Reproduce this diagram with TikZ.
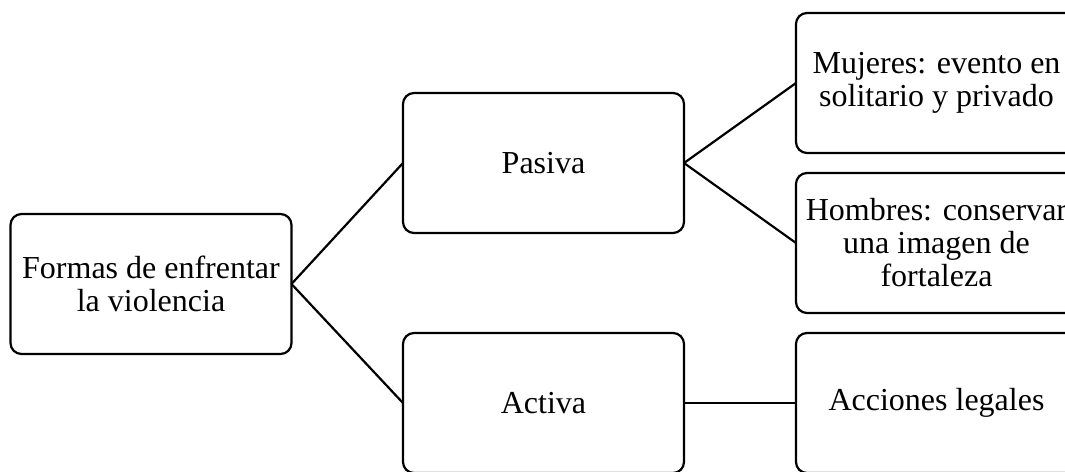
\documentclass[tikz,border=0pt]{standalone}
\usepackage{fontspec}
\setmainfont{Liberation Serif}
\begin{document}
\begin{tikzpicture}[x=1pt,y=-1pt,
  box/.style={draw=black, line width=2.2pt, rounded corners=11pt, fill=white,
    minimum width=281pt, minimum height=140pt, inner sep=0pt, outer sep=0pt,
    align=center, font=\fontsize{32}{33}\selectfont},
  link/.style={draw=black, line width=2.2pt}]
  \useasboundingbox (0,0) rectangle (1065,471);
  \clip (0,0) rectangle (1065,471);
  \fill[white] (0,0) rectangle (1065,471);

  % left column
  \node[box] (root) at (151,284) {Formas de enfrentar\\la violencia};
  % middle column
  \node[box] (pasiva) at (543.5,163) {Pasiva};
  \node[box] (activa) at (543.5,403) {Activa};
  % right column
  \node[box] (mujeres) at (936.5,83) {Mujeres: evento en\\solitario y privado};
  \node[box] (hombres) at (936.5,243) {Hombres: conservar\\una imagen de\\fortaleza};
  \node[box] (acciones) at (936.5,403) {Acciones legales};

  % connectors
  \draw[link] (root.east) -- (pasiva.west);
  \draw[link] (root.east) -- (activa.west);
  \draw[link] (pasiva.east) -- (mujeres.west);
  \draw[link] (pasiva.east) -- (hombres.west);
  \draw[link] (activa.east) -- (acciones.west);
\end{tikzpicture}
\end{document}
